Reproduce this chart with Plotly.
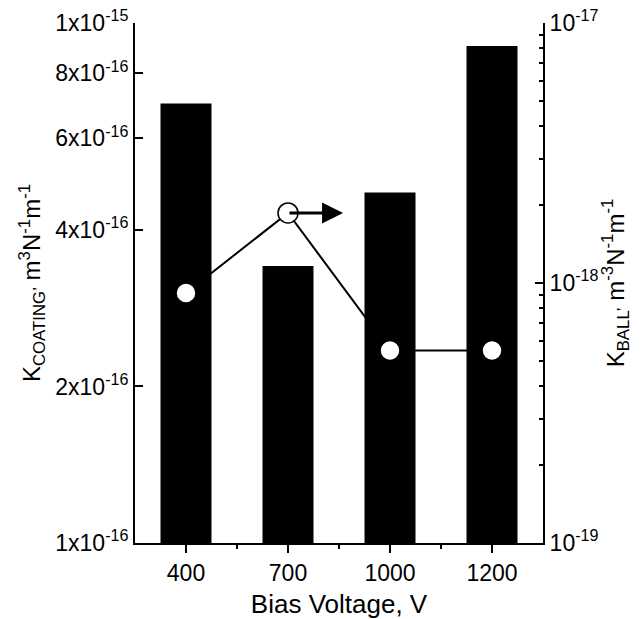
import math
import plotly.graph_objects as go

categories = ["400", "700", "1000", "1200"]
k_coating = [7.0e-16, 3.41e-16, 4.72e-16, 9.03e-16]
k_ball = [9.15e-19, 1.86e-18, 5.5e-19, 5.5e-19]

left_tickvals = [1e-16, 2e-16, 4e-16, 6e-16, 8e-16, 1e-15]
left_ticktext = ["1x10<sup>-16</sup>", "2x10<sup>-16</sup>", "4x10<sup>-16</sup>",
                 "6x10<sup>-16</sup>", "8x10<sup>-16</sup>", "1x10<sup>-15</sup>"]
right_tickvals = [1e-19, 1e-18, 1e-17]
right_ticktext = ["10<sup>-19</sup>", "10<sup>-18</sup>", "10<sup>-17</sup>"]
right_minor = [m * 10.0 ** e for e in (-19, -18) for m in range(2, 10)]

left_title = "K<sub>COATING’</sub> m<sup>3</sup>N<sup>-1</sup>m<sup>-1</sup>"
right_title = "K<sub>BALL’</sub> m<sup>-3</sup>N<sup>-1</sup>m<sup>-1</sup>"

FONT = "Liberation Sans, Arial, sans-serif"

fig = go.Figure()
fig.add_trace(go.Bar(x=categories, y=k_coating, width=0.5,
                     marker=dict(color="black", line=dict(width=0)),
                     yaxis="y", showlegend=False))
fig.add_trace(go.Scatter(x=categories, y=k_ball, yaxis="y2", mode="lines+markers",
                         line=dict(color="black", width=2),
                         marker=dict(size=20, color="white",
                                     line=dict(color="black", width=1.5)),
                         showlegend=False))

# arrow pointing to the right axis from the 700 V point
fig.add_annotation(x=1.54, y=math.log10(k_ball[1]), xref="x", yref="y2",
                   ax=1, ay=math.log10(k_ball[1]), axref="x", ayref="y2",
                   showarrow=True, arrowhead=2, arrowsize=1.4, arrowwidth=3,
                   arrowcolor="black", text="", standoff=0, startstandoff=0)

fig.update_layout(
    width=644, height=619,
    margin=dict(l=135, r=101, t=23, b=76),
    paper_bgcolor="white", plot_bgcolor="white",
    font=dict(family=FONT, size=23, color="black"),
    bargap=0.5,
    xaxis=dict(type="category", range=[-0.5, 3.5], showline=True, linecolor="black",
               linewidth=2, ticks="outside", ticklen=8, tickwidth=2, tickcolor="black",
               showgrid=False, zeroline=False, automargin=False,
               minor=dict(ticks="outside", ticklen=4, tickwidth=2, tickcolor="black",
                          tickvals=[0.5, 1.5, 2.5]),
               title=dict(text="Bias Voltage, V", font=dict(size=26), standoff=16)),
    yaxis=dict(type="log", range=[-16, -15], showline=True, linecolor="black", linewidth=2,
               ticks="inside", ticklen=8, tickwidth=2, tickcolor="black",
               tickvals=left_tickvals, ticktext=left_ticktext, showgrid=False,
               zeroline=False, automargin=False,
               title=dict(text=left_title, font=dict(size=24), standoff=8)),
    yaxis2=dict(type="log", range=[-19, -17], overlaying="y", side="right",
                showline=True, linecolor="black", linewidth=2,
                ticks="inside", ticklen=8, tickwidth=2, tickcolor="black",
                tickvals=right_tickvals, ticktext=right_ticktext, showgrid=False,
                zeroline=False, automargin=False,
                minor=dict(ticks="inside", ticklen=4, tickwidth=2, tickcolor="black",
                           tickvals=right_minor, showgrid=False),
                title=dict(text=right_title, font=dict(size=24), standoff=4)),
)

fig.write_html("out.html")
